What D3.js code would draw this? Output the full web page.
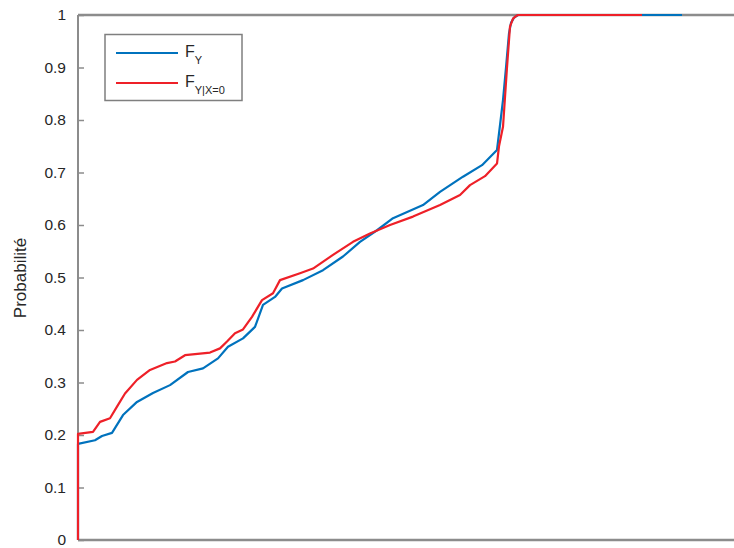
<!DOCTYPE html>
<html><head><meta charset="utf-8">
<script src="https://cdn.jsdelivr.net/npm/d3@7"></script>
<style>body{margin:0;background:#fff}svg{display:block}</style>
</head><body><svg id="c" width="734" height="548"></svg>
<script>
// Data (x is unitless position along the horizontal axis, y is probability)
const fyX = [0,0,17,24,34,45,59,75,92,110,125,140,150,165,177,185,197,204,225,245,265,282,299,315,345,362,385,404,419,422,425,428,431,433,436,440,604];
const fyY = [0,0.183,0.19,0.198,0.204,0.238,0.263,0.28,0.295,0.32,0.327,0.346,0.368,0.384,0.406,0.448,0.463,0.479,0.495,0.514,0.54,0.568,0.59,0.613,0.638,0.663,0.692,0.714,0.743,0.79,0.838,0.9,0.965,0.985,0.995,1,1];
const fyx0X = [0,0,15,22,32,39,47,59,72,89,97,107,132,142,149,157,165,174,184,195,202,222,235,255,275,292,312,335,362,382,392,407,419,421,425,429,432,435,438,440,564];
const fyx0Y = [0,0.202,0.206,0.225,0.232,0.254,0.279,0.305,0.324,0.337,0.34,0.352,0.357,0.365,0.378,0.394,0.401,0.425,0.457,0.47,0.495,0.508,0.517,0.543,0.568,0.584,0.6,0.616,0.638,0.657,0.676,0.693,0.717,0.75,0.787,0.9,0.978,0.993,0.998,1,1];
const yTicks = [0,0.1,0.2,0.3,0.4,0.5,0.6,0.7,0.8,0.9,1];
const yTickLabels = ["0","0.1","0.2","0.3","0.4","0.5","0.6","0.7","0.8","0.9","1"];
const seriesNames = [["F","Y"],["F","Y|X=0"]];
const seriesColors = ["#0072BD","#EE2028"];

const svg = d3.select("#c");
const mLeft = 78, mTop = 15, mBottom = 540;
const x = d3.scaleLinear().domain([0,700]).range([mLeft, mLeft+700]);
const y = d3.scaleLinear().domain([0,1]).range([mBottom, mTop]);
const font = "'Liberation Sans', Arial, Helvetica, sans-serif";
const axisCol = "#8c8c8c";

// axes (drawn first so the curves sit on top)
const yAxis = d3.axisLeft(y).tickValues(yTicks).tickFormat((d,i)=>yTickLabels[i]).tickSize(-6).tickPadding(12);
const gy = svg.append("g").attr("transform",`translate(${mLeft},0)`).call(yAxis);
gy.select(".domain").remove();
gy.selectAll(".tick line").attr("stroke", axisCol).attr("stroke-width",1.5);
gy.selectAll(".tick text").attr("font-family", font).attr("font-size", 15.5).attr("fill","#262626");

svg.append("line").attr("x1",mLeft).attr("x2",mLeft).attr("y1",mTop).attr("y2",mBottom)
  .attr("stroke",axisCol).attr("stroke-width",2);
svg.append("line").attr("x1",mLeft).attr("x2",734).attr("y1",mBottom).attr("y2",mBottom)
  .attr("stroke",axisCol).attr("stroke-width",2.5);
svg.append("line").attr("x1",mLeft).attr("x2",734).attr("y1",mTop).attr("y2",mTop)
  .attr("stroke",axisCol).attr("stroke-width",2.5);

// lines
const line = d3.line().x(d=>x(d[0])).y(d=>y(d[1]));
const series = [d3.zip(fyX, fyY), d3.zip(fyx0X, fyx0Y)];
series.forEach((s,i)=>{
  svg.append("path").datum(s).attr("d", line)
    .attr("fill","none").attr("stroke", seriesColors[i])
    .attr("stroke-width", 2.2).attr("stroke-linejoin","round");
});

// y label
svg.append("text").attr("transform","translate(26,278) rotate(-90)")
  .attr("text-anchor","middle").attr("font-family",font).attr("font-size",17)
  .attr("fill","#262626").text("Probabilité");

// legend
const lg = svg.append("g");
lg.append("rect").attr("x",105).attr("y",34.5).attr("width",137).attr("height",66)
  .attr("fill","#fff").attr("stroke","#7f7f7f").attr("stroke-width",1.5);
[53,83].forEach((ly,i)=>{
  lg.append("line").attr("x1",116).attr("x2",178).attr("y1",ly).attr("y2",ly)
    .attr("stroke",seriesColors[i]).attr("stroke-width",2.2);
  const t = lg.append("text").attr("x",185).attr("y",ly+4).attr("font-family",font)
    .attr("font-size",16).attr("fill","#262626");
  t.append("tspan").text(seriesNames[i][0]);
  t.append("tspan").attr("dy",7).attr("font-size",11).text(seriesNames[i][1]);
});
</script></body></html>
